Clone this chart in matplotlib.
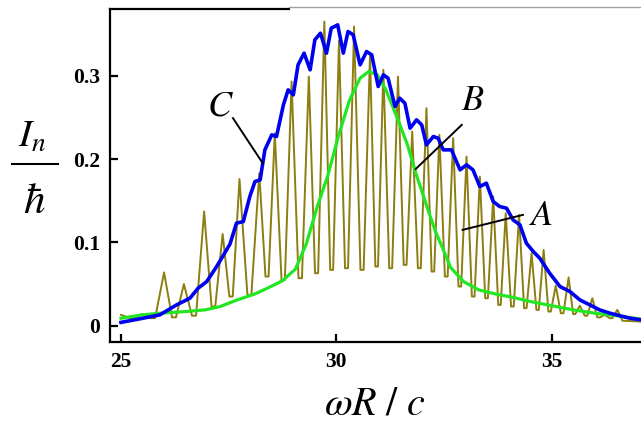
import matplotlib
matplotlib.use("Agg")
import matplotlib.pyplot as plt
from matplotlib.lines import Line2D

plt.rcParams["mathtext.fontset"] = "stix"

# ---- spectrum A: individual peaks (position, height) and the floor between them ----
peak_x = [25.48, 26.00, 26.46, 26.93, 27.36, 27.75, 28.21, 28.57, 28.96, 29.36,
          29.72, 30.06, 30.41, 30.78, 31.09, 31.43, 31.76, 32.09, 32.39, 32.71,
          33.02, 33.33, 33.64, 33.93, 34.24, 34.53, 34.81, 35.09, 35.39, 35.65,
          35.94, 36.23, 36.52]
peak_y = [0.014, 0.064, 0.050, 0.137, 0.110, 0.176, 0.183, 0.231, 0.293, 0.299,
          0.365, 0.342, 0.359, 0.325, 0.307, 0.299, 0.233, 0.261, 0.229, 0.225,
          0.203, 0.179, 0.155, 0.135, 0.133, 0.087, 0.091, 0.048, 0.058, 0.024,
          0.033, 0.013, 0.019]
# floor level before the first peak, between neighbours, and after the last peak
trough_y = [0.008, 0.009, 0.010, 0.012, 0.023, 0.035, 0.037, 0.059, 0.055, 0.057,
            0.063, 0.067, 0.069, 0.067, 0.071, 0.069, 0.073, 0.069, 0.065, 0.059,
            0.047, 0.035, 0.033, 0.025, 0.023, 0.021, 0.019, 0.017, 0.015, 0.014,
            0.012, 0.010, 0.009, 0.006]
a_start = (25.0, 0.013)
a_end = (37.07, 0.005)

# ---- curve B (smooth envelope) ----
b_x = [25.0, 25.5, 25.9, 26.5, 26.95, 27.3, 27.7, 28.1, 28.4, 28.75, 29.05, 29.3,
       29.55, 29.8, 30.05, 30.3, 30.55, 30.75, 30.95, 31.15, 31.4, 31.65, 31.85,
       32.1, 32.3, 32.45, 32.65, 32.95, 33.3, 33.7, 34.1, 34.5, 35.0, 35.5, 36.0,
       36.5, 37.07]
b_y = [0.009, 0.013, 0.015, 0.017, 0.019, 0.023, 0.031, 0.038, 0.045, 0.054, 0.068,
       0.098, 0.142, 0.180, 0.228, 0.270, 0.297, 0.305, 0.301, 0.283, 0.251, 0.217,
       0.182, 0.143, 0.113, 0.095, 0.070, 0.053, 0.043, 0.038, 0.034, 0.029, 0.024,
       0.019, 0.015, 0.012, 0.008]

# ---- curve C (jagged upper envelope) ----
c_x = [25.00, 25.51, 25.90, 26.29, 26.60, 26.79, 26.99, 27.22, 27.37, 27.53, 27.68,
       27.84, 27.99, 28.11, 28.23, 28.34, 28.50, 28.61, 28.77, 28.88, 29.00, 29.11,
       29.25, 29.39, 29.50, 29.63, 29.77, 29.88, 30.03, 30.16, 30.27, 30.39, 30.55,
       30.70, 30.82, 30.97, 31.09, 31.20, 31.36, 31.47, 31.59, 31.71, 31.86, 31.98,
       32.09, 32.25, 32.36, 32.48, 32.67, 32.87, 33.02, 33.17, 33.33, 33.48, 33.64,
       33.79, 33.95, 34.10, 34.26, 34.41, 34.57, 34.72, 34.95, 35.19, 35.42, 35.65,
       35.88, 36.11, 36.35, 36.58, 36.81, 37.07]
c_y = [0.004, 0.009, 0.013, 0.025, 0.033, 0.045, 0.053, 0.071, 0.084, 0.098, 0.123,
       0.125, 0.155, 0.173, 0.175, 0.211, 0.229, 0.227, 0.265, 0.283, 0.277, 0.313,
       0.327, 0.307, 0.343, 0.351, 0.327, 0.357, 0.361, 0.327, 0.353, 0.349, 0.313,
       0.329, 0.325, 0.287, 0.301, 0.297, 0.263, 0.273, 0.267, 0.237, 0.247, 0.241,
       0.217, 0.227, 0.225, 0.211, 0.211, 0.187, 0.193, 0.187, 0.167, 0.171, 0.149,
       0.143, 0.141, 0.127, 0.121, 0.099, 0.089, 0.081, 0.063, 0.047, 0.041, 0.031,
       0.025, 0.019, 0.015, 0.012, 0.009, 0.007]

x_ticks = [25, 30, 35]
y_ticks = [0.0, 0.1, 0.2, 0.3]
y_tick_labels = ["0", "0.1", "0.2", "0.3"]

W, H = 641, 423
fig = plt.figure(figsize=(W / 100, H / 100), dpi=100)
ax = fig.add_axes([110 / W, (H - 342.3) / H, (W - 110) / W, (342.3 - 9) / H])
ax.set_xlim(24.745, 37.07)
ax.set_ylim(-0.0199, 0.380)

# build spectrum A: each spike's base spans a fixed share of the gap to its neighbours
base_share = 0.40
n_pk = len(peak_x)
ax_pts, ay_pts = [a_start[0]], [a_start[1]]
for i in range(n_pk):
    px, py = peak_x[i], peak_y[i]
    gap_l = px - (peak_x[i - 1] if i > 0 else px - 0.5)
    gap_r = (peak_x[i + 1] if i < n_pk - 1 else px + 0.3) - px
    ax_pts += [px - base_share * gap_l, px, px + base_share * gap_r]
    ay_pts += [trough_y[i], py, trough_y[i + 1]]
ax_pts.append(a_end[0])
ay_pts.append(a_end[1])

ax.plot(ax_pts, ay_pts, color="#8c7e10", lw=1.4, zorder=2)
ax.plot(b_x, b_y, color="#22e622", lw=2.3, zorder=3, solid_joinstyle="round")
ax.plot(c_x, c_y, color="#0000f0", lw=2.6, zorder=4, solid_joinstyle="round")

# curve labels with leader lines
ax.text(27.30, 0.264, "$C$", fontsize=26, ha="center", va="center")
ax.plot([27.60, 28.29], [0.249, 0.195], color="black", lw=1.4, zorder=5)
ax.text(33.16, 0.271, "$B$", fontsize=26, ha="center", va="center")
ax.plot([32.91, 31.84], [0.241, 0.188], color="black", lw=1.4, zorder=5)
ax.text(34.74, 0.133, "$A$", fontsize=26, ha="center", va="center")
ax.plot([34.33, 32.93], [0.133, 0.115], color="black", lw=1.4, zorder=5)

# axes styling
for side in ("top", "right"):
    ax.spines[side].set_visible(False)
for side in ("left", "bottom"):
    ax.spines[side].set_linewidth(1.6)
ax.set_xticks(x_ticks)
ax.set_xticklabels([str(t) for t in x_ticks])
ax.set_yticks(y_ticks)
ax.set_yticklabels(y_tick_labels)
ax.tick_params(direction="in", length=6, width=1.6, pad=7)
for lab in ax.get_xticklabels() + ax.get_yticklabels():
    lab.set_fontfamily("Liberation Serif")
    lab.set_fontweight("bold")
    lab.set_fontsize(15.5)

# top border: dark on the left part, faint grey beyond
fig.add_artist(Line2D([110 / W, 289 / W], [(H - 9) / H] * 2, color="black", lw=1.6))
fig.add_artist(Line2D([289 / W, 1.0], [(H - 7.5) / H] * 2, color="#a0a0a0", lw=1.0))

# axis titles
fig.text(375 / W, (H - 414) / H, r"$\omega R\ /\ c$", fontsize=29, ha="center",
         va="baseline")
fig.text(32 / W, (H - 147) / H, r"$I_n$", fontsize=28, ha="center", va="baseline")
fig.add_artist(Line2D([12 / W, 58 / W], [(H - 164) / H] * 2, color="black", lw=1.5))
fig.text(34 / W, (H - 213) / H, r"$\hbar$", fontsize=31, ha="center", va="baseline")

fig.savefig("out.png", dpi=100)
